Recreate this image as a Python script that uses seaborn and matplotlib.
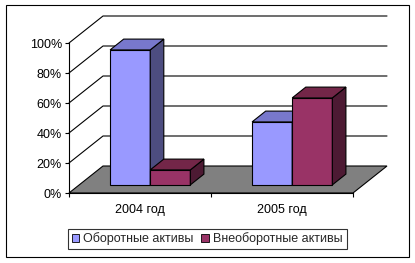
import numpy as np
import pandas as pd
import seaborn as sns
import matplotlib
matplotlib.use("Agg")
import matplotlib.pyplot as plt
from matplotlib.patches import Polygon, Rectangle
from matplotlib.lines import Line2D

# ---- data ----
categories = ["2004 год", "2005 год"]
series_names = ["Оборотные активы", "Внеоборотные активы"]
current_assets = [0.90, 0.42]
noncurrent_assets = [0.10, 0.58]
yticks = [0.0, 0.2, 0.4, 0.6, 0.8, 1.0]
ytick_labels = ["0%", "20%", "40%", "60%", "80%", "100%"]

front_colors = ["#9999FF", "#993366"]
side_colors = ["#4D4D80", "#4D1A33"]
top_colors = ["#7878CC", "#732648"]

df = pd.DataFrame({
    "year": categories * 2,
    "share": current_assets + noncurrent_assets,
    "series": [series_names[0]] * 2 + [series_names[1]] * 2,
})

sns.set_theme(style="white")
plt.rcParams["font.family"] = ["Liberation Sans", "DejaVu Sans"]
FS = 9.0

W, H = 415, 263
fig = plt.figure(figsize=(W / 100, H / 100), dpi=100)
fig.patch.set_facecolor("white")

# front plane of the axes (pixels)
ax_l, ax_r, ax_b, ax_t = 69, 353, 193, 43
ax = fig.add_axes([ax_l / W, (H - ax_b) / H, (ax_r - ax_l) / W, (ax_b - ax_t) / H])
ax.set_facecolor("none")

sns.barplot(data=df, x="year", y="share", hue="series", hue_order=series_names,
            palette=front_colors, width=0.565, edgecolor="black", linewidth=0.8,
            saturation=1, ax=ax, legend=True)

ax.set_xlim(-0.5, 1.5)
ax.set_ylim(0, 1)

# depth in data units
px_x = (ax_r - ax_l) / 2.0
px_y = (ax_b - ax_t) / 1.0
Dx, Dy = 34 / px_x, 27 / px_y
f0, f1 = 0.3, 0.7
bdx, bdy = (f1 - f0) * Dx, (f1 - f0) * Dy

# walls / gridlines
for v in yticks[1:]:
    ax.add_line(Line2D([-0.5, -0.5 + Dx, 1.5 + Dx], [v, v + Dy, v + Dy],
                       color="black", lw=0.8, zorder=0.5, clip_on=False))
# floor
floor = Polygon([(-0.5, 0), (1.5, 0), (1.5 + Dx, Dy), (-0.5 + Dx, Dy)],
                closed=True, facecolor="#808080", edgecolor="black", lw=0.8,
                zorder=0.8, clip_on=False)
ax.add_patch(floor)

# 3D bars
bars = [p for p in ax.patches if isinstance(p, Rectangle) and p.get_height() > 0]
bars.sort(key=lambda p: p.get_x())
zo = 2
for p in bars:
    x0 = p.get_x() + f0 * Dx
    y0 = p.get_y() + f0 * Dy
    w = p.get_width()
    h = p.get_height()
    p.set_x(x0)
    p.set_y(y0)
    p.set_clip_on(False)
    p.set_zorder(zo)
    fc = matplotlib.colors.to_hex(p.get_facecolor())
    idx = 0 if fc.lower() == front_colors[0].lower() else 1
    x1, y1 = x0 + w, y0 + h
    side = Polygon([(x1, y0), (x1 + bdx, y0 + bdy), (x1 + bdx, y1 + bdy), (x1, y1)],
                   closed=True, facecolor=side_colors[idx], edgecolor="black",
                   lw=0.8, zorder=zo, clip_on=False)
    top = Polygon([(x0, y1), (x1, y1), (x1 + bdx, y1 + bdy), (x0 + bdx, y1 + bdy)],
                  closed=True, facecolor=top_colors[idx], edgecolor="black",
                  lw=0.8, zorder=zo, clip_on=False)
    ax.add_patch(side)
    ax.add_patch(top)
    zo += 1

# axes styling
for s in ["top", "right"]:
    ax.spines[s].set_visible(False)
for s in ["left", "bottom"]:
    ax.spines[s].set_color("black")
    ax.spines[s].set_linewidth(0.8)
    ax.spines[s].set_zorder(10)

ax.set_yticks(yticks)
ax.set_yticklabels(ytick_labels, fontsize=FS, color="black")
ax.tick_params(axis="y", which="major", left=True, length=3, width=0.8,
               color="black", pad=2)
ax.set_xticks([0, 1])
ax.set_xticklabels(categories, fontsize=FS, color="black")
ax.set_xticks([-0.5, 0.5, 1.5], minor=True)
ax.tick_params(axis="x", which="major", bottom=False, length=0, pad=8)
ax.tick_params(axis="x", which="minor", bottom=True, length=3, width=0.8, color="black")
ax.set_xlabel("")
ax.set_ylabel("")
ax.grid(False)

# legend
handles, labels = ax.get_legend_handles_labels()
if ax.get_legend() is not None:
    ax.get_legend().remove()
leg = fig.legend(handles, labels, loc="center",
                 bbox_to_anchor=(207.2 / W, (H - 239) / H),
                 ncol=2, fontsize=FS, frameon=True, fancybox=False,
                 handlelength=0.6, handleheight=0.6, handletextpad=0.35,
                 columnspacing=0.6, borderpad=0.3, borderaxespad=0)
leg.get_frame().set_edgecolor("black")
leg.get_frame().set_linewidth(0.8)
for h_ in leg.legend_handles:
    h_.set_edgecolor("black")
    h_.set_linewidth(0.6)

# outer border
fig.patches.append(Rectangle((6 / W, (H - 257) / H), 403 / W, 252 / H,
                             transform=fig.transFigure, fill=False,
                             edgecolor="black", lw=0.8))

fig.savefig("out.png", dpi=100, facecolor="white")
